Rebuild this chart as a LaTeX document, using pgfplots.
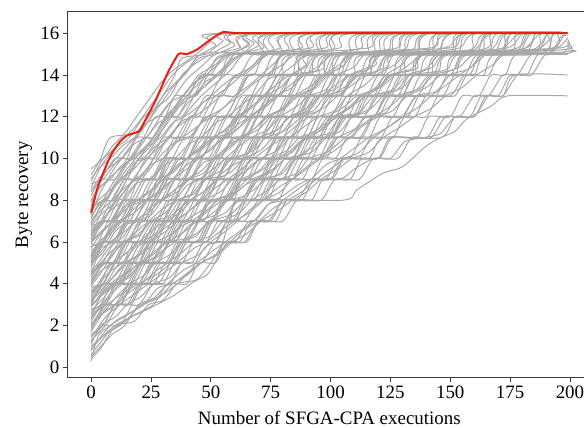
\documentclass[border=0pt]{standalone}
\usepackage{pgfplots}
\pgfplotsset{compat=1.18}
\usepackage{fontspec}
\setmainfont{Liberation Serif}
\definecolor{gline}{RGB}{168,168,168}
\definecolor{rline}{RGB}{232,32,22}
\definecolor{spine}{RGB}{60,60,60}
\pgfplotsset{gcurve/.style={gline, line width=1bp, smooth, tension=0.45, no marks}}
\begin{document}
\begin{tikzpicture}
\begin{axis}[
  at={(0,0)}, anchor=south west,
  scale only axis, width=524.1bp, height=366bp,
  xmin=-9.95, xmax=208.95, ymin=-0.5, ymax=17.03,
  xtick={0,25,50,75,100,125,150,175,200},
  ytick={0,2,4,6,8,10,12,14,16},
  tick pos=left, tick align=outside,
  major tick length=4.5bp,
  every tick/.style={spine, line width=0.9bp},
  axis line style={spine, line width=1bp},
  /pgf/number format/assume math mode=true,
  ticklabel style={font=\fontsize{19}{22}\selectfont},
  xlabel={Number of SFGA-CPA executions},
  ylabel={Byte recovery},
  every axis x label/.style={at={(axis description cs:0.5,-0.1273)}, anchor=base, font=\fontsize{19}{22}\selectfont},
  every axis y label/.style={at={(axis description cs:-0.0826,0.5)}, rotate=90, anchor=center, font=\fontsize{19}{22}\selectfont},
  clip=true,
]
\addplot[gcurve] coordinates {(0,9.2)(4,10)(8,11)(18,11.2)(24,12)(30,13)(35,14)(38,14.8)(48,15)(55,15.6)(62,16)(199,16)};
\addplot[gcurve] coordinates {(0,8.5)(5,9)(12,10)(16,10)(22,11)(26,11)(31,12)(35,13)(40,13)(46,14)(50,14)(56,15)(64,15)(70,16)(199,16)};
\addplot[gcurve] coordinates {(0,7)(6,8)(11,9)(17,10)(22,10)(28,11)(33,12)(38,12)(43,13)(48,14)(54,14)(60,15)(72,15)(78,16)(199,16)};
\addplot[gcurve] coordinates {(0,6.5)(5,7)(10,7)(16,8)(20,9)(26,9)(31,10)(36,11)(41,12)(45,12)(50,13)(55,14)(62,14)(68,15)(80,15)(86,16)(199,16)};
\addplot[gcurve] coordinates {(0,5.2)(4,6)(9,6)(14,7)(18,8)(24,8)(29,9)(33,10)(40,10)(45,11)(50,12)(56,12)(61,13)(66,14)(74,14)(80,15)(88,15)(94,16)(199,16)};
\addplot[gcurve] coordinates {(0,4)(5,5)(10,6)(16,6)(21,7)(25,8)(30,8)(35,9)(40,10)(46,10)(51,11)(56,11)(61,12)(66,13)(72,13)(78,14)(84,15)(95,15)(101,16)(199,16)};
\addplot[gcurve] coordinates {(0,3)(5,4)(11,4)(16,5)(21,6)(27,6)(32,7)(38,7)(43,8)(48,9)(55,9)(60,10)(67,10)(72,11)(78,12)(86,12)(91,13)(97,14)(105,14)(110,15)(122,15)(128,16)(199,16)};
\addplot[gcurve] coordinates {(0,2.5)(6,3)(10,4)(16,4)(21,5)(27,5)(32,6)(36,7)(44,7)(49,8)(55,8)(60,9)(64,10)(72,10)(78,11)(85,11)(90,12)(95,13)(104,13)(110,14)(118,14)(124,15)(140,15)(146,16)(199,16)};
\addplot[gcurve] coordinates {(0,5.8)(6,6)(12,7)(18,7)(23,8)(29,8)(34,9)(41,9)(46,10)(52,11)(58,11)(63,12)(70,12)(75,13)(80,14)(88,14)(94,15)(108,15)(114,16)(199,16)};
\addplot[gcurve] coordinates {(0,4.7)(5,5)(11,5)(16,6)(20,7)(27,7)(32,8)(38,8)(43,9)(49,9)(54,10)(60,11)(68,11)(73,12)(79,12)(84,13)(91,13)(96,14)(104,14)(109,15)(130,15)(136,16)(199,16)};
\addplot[gcurve] coordinates {(0,3.6)(4,4)(8,5)(14,5)(19,6)(25,6)(30,7)(35,8)(42,8)(47,9)(52,10)(60,10)(65,11)(71,11)(76,12)(83,12)(88,13)(95,13)(100,14)(112,14)(118,15)(150,15)(156,16)(199,16)};
\addplot[gcurve] coordinates {(0,2)(6,3)(12,3)(17,4)(22,5)(28,5)(33,6)(40,6)(45,7)(50,8)(57,8)(62,9)(70,9)(75,10)(82,11)(90,11)(95,12)(102,12)(107,13)(115,13)(120,14)(128,14)(133,15)(160,15)(166,16)(199,16)};
\addplot[gcurve] coordinates {(0,6.2)(5,7)(12,7)(17,8)(23,8)(28,9)(32,10)(40,10)(45,11)(52,11)(57,12)(64,12)(69,13)(76,13)(81,14)(90,14)(95,15)(115,15)(121,16)(199,16)};
\addplot[gcurve] coordinates {(0,7.8)(6,8)(12,9)(18,9)(23,10)(30,10)(35,11)(42,11)(47,12)(52,13)(60,13)(65,14)(75,14)(80,15)(100,15)(106,16)(199,16)};
\addplot[gcurve] coordinates {(0,5)(4,6)(10,6)(15,7)(22,7)(27,8)(33,8)(38,9)(46,9)(51,10)(58,10)(63,11)(68,12)(77,12)(82,13)(90,13)(95,14)(101,14)(106,15)(172,15)(178,16)(199,16)};
\addplot[gcurve] coordinates {(0,4.2)(6,5)(13,5)(18,6)(24,6)(29,7)(36,7)(41,8)(47,8)(52,9)(60,9)(65,10)(72,10)(77,11)(84,11)(89,12)(96,12)(101,13)(108,13)(113,14)(122,14)(127,15)(145,15)(151,16)(199,16)};
\addplot[gcurve] coordinates {(0,3.2)(5,4)(10,5)(17,5)(22,6)(27,7)(33,7)(38,8)(45,8)(50,9)(56,10)(63,10)(68,11)(75,11)(80,12)(87,12)(92,13)(100,13)(105,14)(114,14)(119,15)(136,15)(142,16)(199,16)};
\addplot[gcurve] coordinates {(0,1.5)(5,2)(10,3)(16,3)(21,4)(28,4)(33,5)(38,6)(45,6)(50,7)(56,7)(61,8)(68,8)(73,9)(80,9)(85,10)(92,10)(97,11)(104,11)(109,12)(118,12)(123,13)(130,13)(135,14)(143,14)(148,15)(170,15)(176,16)(199,16)};
\addplot[gcurve] coordinates {(0,6.8)(5,7)(11,8)(18,8)(23,9)(29,9)(34,10)(39,11)(46,11)(51,12)(58,12)(63,13)(70,13)(75,14)(84,14)(89,15)(127,15)(133,16)(199,16)};
\addplot[gcurve] coordinates {(0,5.5)(5,6)(11,7)(16,7)(21,8)(27,8)(32,9)(39,9)(44,10)(50,10)(55,11)(61,12)(69,12)(74,13)(82,13)(87,14)(97,14)(102,15)(160,15)(166,16)(199,16)};
\addplot[gcurve] coordinates {(0,0.9)(10,2)(24,2.8)(34,3.4)(43,4.1)(49,4.5)(54,5.6)(58,7.2)(62,8.8)(66,9.6)(72,10)(80,10)(85,11)(95,11)(100,12)(110,12)(115,13)(125,13)(130,14)(140,14)(145,15)(180,15)(186,16)(199,16)};
\addplot[gcurve] coordinates {(0,0.3)(3,1.5)(8,2)(15,2.5)(22,3)(30,3.5)(36,4)(42,4.7)(48,5.8)(55,6)(62,6)(67,7)(75,7)(80,8)(88,8)(93,9)(100,9)(105,10)(112,10)(117,11)(126,11)(131,12)(140,12)(145,13)(152,13)(157,14)(164,14)(169,15)(199,15)};
\addplot[gcurve] coordinates {(0,1.8)(6,3)(12,3)(17,4)(24,4)(29,5)(35,5)(40,6)(48,6)(53,7)(58,7)(63,8)(105,8)(111,8.5)(122,9.3)(130,9.6)(140,10.6)(146,11)(152,11.3)(157,11.9)(167,12.5)(174,13)(199,13)};
\addplot[gcurve] coordinates {(0,1.2)(5,2)(12,2)(17,3)(22,4)(30,4)(35,5)(42,5)(47,6)(52,6)(57,7)(68,7)(74,7.8)(80,8.2)(86,8.7)(92,9)(104,9)(110,9.5)(118,10)(125,10)(131,10.8)(139,11)(146,11.2)(152,12)(160,12)(165,13)(172,13)(177,14)(199,14)};
\addplot[gcurve] coordinates {(0,2.8)(5,3)(11,4)(18,4)(23,5)(31,5)(36,6)(44,6)(49,7)(56,7)(61,8)(70,8)(75,9)(84,9)(89,10)(98,10)(103,11)(113,11)(118,12)(126,12)(131,13)(140,13)(145,14)(156,14)(162,15)(185,15)(191,16)(199,16)};
\addplot[gcurve] coordinates {(0,3.9)(6,4)(12,5)(20,5)(25,6)(32,6)(37,7)(45,7)(50,8)(58,8)(63,9)(72,9)(77,10)(86,10)(91,11)(100,11)(105,12)(114,12)(119,13)(128,13)(133,14)(142,14)(147,15)(199,15)};
\addplot[gcurve] coordinates {(0,2.2)(5,3)(12,3)(18,4)(26,4)(31,5)(38,5)(43,6)(52,6)(57,7)(64,7)(70,8)(78,8)(83,9)(92,9)(97,10)(108,10)(113,11)(121,11)(126,12)(135,12)(140,13)(147,13)(152,14)(160,14)(165,15)(190,15)(196,15.8)(199,15.9)};
\addplot[gcurve] coordinates {(0,4.5)(5,5)(10,5)(15,6)(23,6)(28,7)(35,7)(40,8)(48,8)(53,9)(62,9)(67,10)(76,10)(81,11)(90,11)(95,12)(104,12)(109,13)(118,13)(123,14)(135,14)(140,15)(194,15)(199,15.6)};
\addplot[gcurve] coordinates {(0,1.6)(5,2)(10,3)(15,3)(20,4)(26,5)(34,5)(39,6)(46,6)(51,7)(60,7)(65,8)(72,8)(77,9)(88,9)(93,10)(102,10)(107,11)(116,11)(121,12)(132,12)(137,13)(144,13)(149,14)(158,14)(163,15)(178,15)(184,16)(199,16)};
\addplot[gcurve] coordinates {(0,3.4)(6,4)(12,4)(17,5)(23,5)(28,6)(34,6)(39,7)(50,7)(55,8)(64,8)(69,9)(76,9)(81,10)(90,10)(95,11)(101,11)(106,12)(118,12)(123,13)(130,13)(135,14)(148,14)(153,15)(199,15)};
\addplot[gcurve] coordinates {(0,8.2)(4,9)(10,9)(15,10)(19,11)(26,11)(31,12)(36,12)(41,13)(46,14)(54,14)(59,15)(84,15)(90,16)(199,16)};
\addplot[gcurve] coordinates {(0,7.2)(5,8)(9,8)(14,9)(21,9)(26,10)(30,11)(37,11)(42,12)(49,12)(54,13)(61,13)(66,14)(72,14)(77,15)(96,15)(102,16)(199,16)};
\addplot[gcurve] coordinates {(0,6)(4,6.5)(9,7)(14,8)(20,8)(25,9)(31,9)(36,10)(43,10)(48,11)(53,12)(60,12)(65,13)(73,13)(78,14)(86,14)(91,15)(140,15)(146,16)(199,16)};
\addplot[gcurve] coordinates {(0,4.9)(5,6)(11,6)(16,7)(23,7)(28,8)(34,8)(39,9)(44,10)(51,10)(56,11)(64,11)(69,12)(74,13)(83,13)(88,14)(98,14)(103,15)(118,15)(124,16)(199,16)};
\addplot[gcurve] coordinates {(0,3.8)(5,4)(10,5)(18,5)(23,6)(29,6)(34,7)(41,7)(46,8)(52,9)(59,9)(64,10)(72,10)(77,11)(83,11)(88,12)(94,13)(102,13)(107,14)(116,14)(121,15)(152,15)(158,16)(199,16)};
\addplot[gcurve] coordinates {(0,2.7)(4,3)(9,4)(15,4)(20,5)(25,6)(33,6)(38,7)(44,7)(49,8)(56,8)(61,9)(67,10)(75,10)(80,11)(88,11)(93,12)(100,12)(105,13)(111,14)(121,14)(126,15)(164,15)(170,16)(199,16)};
\addplot[gcurve] coordinates {(0,5.6)(6,6)(13,6)(18,7)(24,8)(30,8)(35,9)(42,9)(47,10)(54,10)(59,11)(65,11)(70,12)(78,12)(83,13)(89,13)(94,14)(100,14)(105,15)(125,15)(131,16)(199,16)};
\addplot[gcurve] coordinates {(0,4.4)(4,5)(9,5)(14,6)(19,6)(24,7)(30,7)(35,8)(40,9)(48,9)(53,10)(59,10)(64,11)(71,11)(76,12)(85,12)(90,13)(98,13)(103,14)(108,15)(135,15)(141,16)(199,16)};
\addplot[gcurve] coordinates {(0,6.6)(4,7)(8,7)(13,8)(18,9)(25,9)(30,10)(37,10)(42,11)(48,12)(56,12)(61,13)(66,14)(76,14)(81,15)(110,15)(116,16)(199,16)};
\addplot[gcurve] coordinates {(0,7.6)(5,8)(10,8)(15,9)(20,10)(27,10)(32,11)(38,11)(43,12)(48,13)(55,13)(60,14)(68,14)(73,15)(91,15)(97,16)(199,16)};
\addplot[gcurve] coordinates {(0,3)(5,3.5)(10,4)(15,5)(22,5)(27,6)(35,6)(40,7)(47,7)(52,8)(58,8)(63,9)(71,9)(76,10)(84,10)(89,11)(96,11)(101,12)(109,12)(114,13)(122,13)(127,14)(134,14)(139,15)(187,15)(193,16)(199,16)};
\addplot[gcurve] coordinates {(0,5.3)(5,6)(10,6)(15,7)(19,8)(26,8)(31,9)(36,9)(41,10)(47,11)(55,11)(60,12)(66,12)(71,13)(79,13)(84,14)(92,14)(97,15)(148,15)(154,16)(199,16)};
\addplot[gcurve] coordinates {(0,2.4)(5,3)(11,3)(16,4)(21,4)(26,5)(31,6)(38,6)(43,7)(51,7)(56,8)(63,8)(68,9)(74,9)(79,10)(87,10)(92,11)(99,11)(104,12)(111,12)(116,13)(124,13)(129,14)(137,14)(142,15)(176,15)(182,16)(199,16)};
\addplot[gcurve] coordinates {(0,1)(5,1.5)(12,2)(18,2.5)(26,3)(32,4)(40,4)(45,5)(52,5)(57,6)(65,6)(70,7)(77,7)(82,8)(92,8)(97,9)(108,9)(113,10)(120,10)(125,11)(136,11)(141,12)(150,12)(155,13)(162,13)(167,14)(173,14)(178,15)(199,15)};
\addplot[gcurve] coordinates {(0,3.5)(5,4)(11,4)(16,5)(21,5)(26,6)(32,7)(40,7)(45,8)(53,8)(58,9)(65,9)(70,10)(78,10)(83,11)(92,11)(97,12)(107,12)(112,13)(119,13)(124,14)(131,14)(136,15)(199,15)};
\addplot[gcurve] coordinates {(0,6.4)(5,7)(10,7)(15,8)(21,8)(26,9)(31,10)(38,10)(43,11)(49,11)(54,12)(62,12)(67,13)(72,14)(80,14)(85,15)(155,15)(161,16)(199,16)};
\addplot[gcurve] coordinates {(0,4.1)(5,5)(10,5)(15,6)(21,7)(28,7)(33,8)(40,8)(45,9)(52,9)(57,10)(63,10)(68,11)(74,11)(79,12)(86,12)(91,13)(97,13)(102,14)(110,14)(115,15)(182,15)(188,16)(199,16)};
\addplot[gcurve] coordinates {(0,2.1)(4,2.5)(10,3)(16,4)(23,4)(28,5)(35,5)(40,6)(46,6)(51,7)(59,7)(64,8)(71,8)(76,9)(82,9)(87,10)(95,10)(100,11)(109,11)(114,12)(120,12)(125,13)(133,13)(138,14)(150,14)(155,15)(168,15)(174,16)(199,16)};
\addplot[gcurve] coordinates {(0,8.8)(4,9)(10,10)(17,10)(22,11)(27,12)(33,12)(38,13)(44,13)(49,14)(55,14)(60,15)(74,15)(80,16)(199,16)};
\addplot[gcurve] coordinates {(0,5.9)(5,6)(10,7)(16,7)(21,8)(27,8)(32,9)(37,10)(44,10)(49,11)(57,11)(62,12)(70,12)(75,13)(82,13)(87,14)(95,14)(100,15)(168,15)(174,16)(199,16)};
\addplot[gcurve] coordinates {(0,2.6)(6,3)(12,4)(20,4)(25,5)(32,5)(37,6)(45,6)(50,7)(60,7)(65,8)(74,8)(79,9)(100,9)(106,10)(120,10)(126,11)(140,11)(146,12)(158,12)(163,13)(170,13)(175,14)(182,14)(187,15)(199,15)};
\addplot[gcurve] coordinates {(0,1.3)(6,2)(12,3)(20,3)(26,4)(33,4)(38,5)(46,5)(52,6)(60,6)(66,7)(74,7)(80,8)(86,8)(92,9)(98,9)(104,10)(116,10)(122,11)(146,11)(152,12)(160,12)(166,13)(172,13)(178,14)(184,14)(190,15)(199,15)};
\addplot[gcurve] coordinates {(0,3.1)(5,4)(12,4)(18,5)(25,5)(30,6)(38,6)(43,7)(50,7)(56,8)(66,8)(72,9)(80,9)(86,10)(96,10)(102,11)(112,11)(118,12)(130,12)(136,13)(150,13)(156,14)(166,14)(172,15)(199,15)};
\addplot[gcurve] coordinates {(0,0.6)(4,1.2)(10,2)(18,2.2)(24,3)(30,3.2)(36,4)(44,4.2)(50,5)(56,6)(64,6)(70,7)(80,7)(86,8)(96,8)(102,9)(112,9)(118,10)(128,10)(134,11)(142,11)(148,12)(154,12)(160,13)(166,13)(172,14)(178,14)(184,15)(192,15)(198,16)(199,16)};
\addplot[gcurve] coordinates {(0,4.6)(6,5)(12,6)(20,6)(26,7)(34,7)(40,8)(50,8)(56,9)(66,9)(72,10)(84,10)(90,11)(100,11)(106,12)(118,12)(124,13)(136,13)(142,14)(152,14)(158,15)(199,15)};
\addplot[gcurve] coordinates {(0,2.9)(4,3.5)(8,4)(14,4.5)(20,5)(24,6)(30,6)(35,7)(40,8)(48,8)(53,9)(58,10)(66,10)(71,11)(80,11)(85,12)(94,12)(99,13)(110,13)(115,14)(126,14)(131,15)(170,15)(176,16)(199,16)};
\addplot[gcurve] coordinates {(0,3.7)(5,4)(10,5)(15,6)(22,6)(27,7)(33,7)(38,8)(44,9)(52,9)(57,10)(64,10)(69,11)(77,11)(82,12)(89,12)(94,13)(104,13)(109,14)(117,14)(122,15)(196,15)(199,15.4)};
\addplot[gcurve] coordinates {(0,9.5)(5,10)(10,10.5)(16,11)(22,12)(28,12.5)(33,13)(38,14)(43,14.5)(50,15)(58,15.5)(65,16)(199,16)};
\addplot[gcurve] coordinates {(0,5)(5,5.5)(10,6.5)(16,7)(22,7)(26,8)(31,9)(38,9)(43,10)(49,10)(54,11)(62,11)(67,12)(73,12)(78,13)(85,13)(90,14)(97,14)(102,15)(120,15)(126,16)(199,16)};
\addplot[gcurve] coordinates {(0,6.1)(6,7)(12,7)(17,8)(22,9)(28,9)(33,10)(40,10)(45,11)(51,11)(56,12)(63,12)(68,13)(76,13)(81,14)(88,14)(93,15)(185,15)(191,16)(199,16)};
\addplot[gcurve] coordinates {(0,1.9)(7,3)(14,3.6)(20,4)(28,4.5)(33,5)(38,6)(44,6.4)(50,7)(58,7.3)(64,8)(70,9)(78,9.2)(84,10)(92,10.3)(98,11)(104,12)(112,12.2)(118,13)(126,13.3)(132,14)(140,14.3)(146,15)(160,15.2)(168,16)(199,16)};
\addplot[gcurve] coordinates {(0,4.8)(3,5.5)(8,6.5)(12,7)(18,7.4)(23,8)(28,9)(34,9.3)(40,10)(47,10.5)(52,11)(60,11.3)(66,12)(72,12.4)(78,13)(84,14)(94,14.2)(100,15)(130,15.2)(138,16)(199,16)};
\addplot[gcurve] coordinates {(0,3.3)(4,4.2)(9,5)(14,5.4)(20,6)(26,6.3)(31,7)(36,7.5)(41,8)(47,8.4)(52,9)(58,9.6)(64,10)(70,11)(77,11.3)(83,12)(90,12.4)(96,13)(102,13.5)(108,14)(116,14.3)(122,15)(142,15.2)(150,16)(199,16)};
\addplot[gcurve] coordinates {(0,0.5)(4,1)(9,1.6)(14,2)(20,3)(26,3.3)(32,4)(38,4.6)(44,5)(50,5.5)(56,6)(62,6.5)(68,7)(74,7.8)(80,8)(86,8.5)(92,9)(98,9.7)(104,10)(110,10.5)(116,11)(124,11.5)(130,12)(136,13)(144,13.2)(150,14)(158,14.3)(164,15)(180,15.2)(188,16)(199,16)};
\addplot[gcurve] coordinates {(0,7.9)(3,8.5)(7,9)(12,9.5)(17,10)(22,10.5)(27,11)(32,12)(37,12.5)(42,13)(48,13.5)(53,14)(58,14.5)(63,15)(70,15.4)(76,16)(199,16)};
\addplot[gcurve] coordinates {(0,6.9)(4,7.5)(9,8)(14,8.6)(19,9)(25,9.7)(30,10)(36,10.8)(41,11)(46,11.7)(51,12)(57,12.6)(62,13)(68,13.6)(73,14)(80,14.5)(86,15)(104,15.3)(110,16)(199,16)};
\addplot[gcurve] coordinates {(0,2.3)(3,2.8)(8,3.5)(13,4)(18,4.8)(23,5)(30,5.6)(35,6)(41,6.8)(46,7)(52,7.5)(57,8)(64,8.7)(69,9)(76,9.5)(81,10)(87,10.8)(92,11)(98,11.6)(103,12)(110,12.6)(115,13)(122,13.5)(127,14)(134,14.6)(139,15)(150,15.4)(157,16)(199,16)};
\addplot[gcurve] coordinates {(0,5.4)(3,5.8)(8,6.6)(13,7)(18,7.6)(23,8)(29,8.5)(34,9)(40,9.5)(45,10)(51,10.6)(56,11)(62,11.5)(67,12)(73,12.6)(78,13)(84,13.6)(89,14)(96,14.5)(101,15)(113,15.3)(119,16)(199,16)};
\addplot[gcurve] coordinates {(0,4.3)(3,4.8)(8,5.2)(13,6)(20,6.3)(25,7)(31,7.4)(36,8)(42,8.3)(47,9)(54,9.4)(59,10)(66,10.3)(71,11)(78,11.4)(83,12)(91,12.3)(96,13)(103,13.4)(108,14)(116,14.4)(121,15)(175,15.2)(183,16)(199,16)};
\addplot[gcurve] coordinates {(0,1.1)(4,2)(10,2.4)(15,3)(21,3.4)(26,4)(33,4.3)(38,5)(45,5.4)(50,6)(56,6.5)(61,7)(67,7.6)(72,8)(79,8.4)(84,9)(90,9.6)(95,10)(101,10.5)(106,11)(113,11.6)(118,12)(125,12.5)(130,13)(138,13.4)(143,14)(152,14.3)(157,15)(192,15.2)(199,15.8)};
\addplot[gcurve] coordinates {(0,7.1)(3,7.8)(8,8.3)(12,9)(17,9.4)(22,10)(27,10.6)(32,11)(37,11.6)(42,12)(47,12.7)(52,13)(58,13.5)(63,14)(69,14.6)(74,15)(88,15.3)(94,16)(199,16)};
\addplot[gcurve] coordinates {(0,8.4)(3,9)(8,9.6)(13,10)(18,10.7)(23,11)(28,11.7)(33,12)(38,12.8)(43,13)(48,13.7)(53,14)(58,14.7)(63,15)(68,15.5)(73,16)(199,16)};
\addplot[gcurve] coordinates {(0,3.9)(4,4.5)(9,5.4)(14,6)(20,6.4)(25,7)(32,7.2)(37,8)(43,8.3)(48,9)(56,9.2)(61,10)(68,10.4)(73,11)(80,11.3)(85,12)(93,12.3)(98,13)(106,13.3)(111,14)(120,14.2)(125,15)(158,15.2)(165,16)(199,16)};
\addplot[gcurve] coordinates {(0,2.5)(5,3.6)(10,4)(16,4.4)(21,5)(28,5.3)(33,6)(40,6.2)(45,7)(52,7.3)(57,8)(64,8.2)(69,9)(76,9.4)(81,10)(89,10.2)(94,11)(102,11.3)(107,12)(115,12.2)(120,13)(128,13.3)(133,14)(145,14.2)(150,15)(196,15.3)(199,15.7)};
\addplot[gcurve] coordinates {(0,5.7)(4,6.4)(9,7)(14,7.5)(19,8)(25,8.4)(30,9)(35,9.6)(40,10)(46,10.5)(51,11)(57,11.4)(62,12)(68,12.5)(73,13)(79,13.4)(84,14)(90,14.5)(95,15)(142,15.3)(148,16)(199,16)};
\addplot[gcurve] coordinates {(0,6.3)(4,7)(9,7.6)(14,8)(19,8.8)(24,9)(30,9.6)(35,10)(41,10.7)(46,11)(52,11.7)(57,12)(63,12.6)(68,13)(74,13.8)(79,14)(86,14.6)(91,15)(162,15.2)(168,16)(199,16)};
\addplot[gcurve] coordinates {(0,1.4)(6,2.4)(12,3)(18,3.5)(24,4)(30,4.5)(36,5)(43,5.7)(48,6)(55,6.6)(60,7)(66,7.4)(72,8)(78,8.6)(84,9)(90,9.5)(96,10)(102,10.4)(108,11)(114,11.6)(120,12)(126,12.3)(132,13)(140,13.4)(146,14)(154,14.4)(160,15)(172,15.3)(180,16)(199,16)};
\addplot[gcurve] coordinates {(0,3.6)(3,4)(8,4.6)(13,5)(19,5.8)(24,6)(30,6.6)(35,7)(41,7.5)(46,8)(52,8.6)(57,9)(63,9.5)(68,10)(75,10.6)(80,11)(86,11.6)(91,12)(98,12.5)(103,13)(110,13.6)(115,14)(124,14.4)(129,15)(196,15.2)(199,15.5)};
\addplot[gcurve] coordinates {(0,4.4)(4,5)(9,5.6)(14,6)(19,6.5)(24,7)(30,7.6)(35,8)(40,8.7)(45,9)(51,9.5)(56,10)(62,10.6)(67,11)(74,11.4)(79,12)(86,12.5)(91,13)(98,13.3)(103,14)(110,14.4)(115,15)(134,15.2)(141,16)(199,16)};
\addplot[gcurve] coordinates {(0,2.7)(5,3.3)(10,4)(16,4.3)(21,5)(27,5.6)(32,6)(39,6.5)(44,7)(50,7.6)(55,8)(62,8.5)(67,9)(73,9.3)(78,10)(85,10.5)(90,11)(97,11.4)(102,12)(108,12.5)(113,13)(120,13.4)(125,14)(134,14.3)(139,15)(154,15.3)(161,16)(199,16)};
\addplot[gcurve] coordinates {(0,8)(3,8.6)(8,9)(13,9.7)(18,10)(24,10.6)(29,11)(34,11.7)(39,12)(45,12.5)(50,13)(56,13.6)(61,14)(67,14.4)(72,15)(79,15.3)(86,16)(199,16)};
\addplot[gcurve] coordinates {(0,5.1)(4,5.7)(9,6)(14,6.8)(19,7)(25,7.7)(30,8)(36,8.6)(41,9)(47,9.8)(52,10)(58,10.5)(63,11)(70,11.4)(75,12)(82,12.6)(87,13)(94,13.4)(99,14)(106,14.5)(111,15)(178,15.2)(186,16)(199,16)};
\addplot[gcurve] coordinates {(0,3.3)(5,3.8)(10,4.4)(15,5)(22,5.5)(27,6)(34,6.4)(39,7)(46,7.5)(51,8)(58,8.3)(63,9)(70,9.4)(75,10)(82,10.4)(87,11)(94,11.3)(99,12)(106,12.5)(111,13)(118,13.3)(123,14)(130,14.5)(135,15)(166,15.2)(173,16)(199,16)};
\addplot[gcurve] coordinates {(0,6.7)(3,7.2)(8,7.7)(13,8.3)(18,9)(23,9.3)(28,10)(33,10.6)(38,11)(44,11.5)(49,12)(55,12.4)(60,13)(66,13.5)(71,14)(77,14.6)(82,15)(116,15.3)(123,16)(199,16)};
\addplot[gcurve] coordinates {(0,4.9)(3,5.4)(8,6)(14,6.5)(19,7)(25,7.3)(30,8)(36,8.4)(41,9)(47,9.3)(52,10)(58,10.7)(63,11)(69,11.5)(74,12)(81,12.4)(86,13)(93,13.4)(98,14)(105,14.4)(110,15)(124,15.2)(131,16)(199,16)};
\addplot[gcurve] coordinates {(0,1.7)(5,2.6)(10,3)(16,3.6)(21,4)(27,4.6)(32,5)(38,5.5)(43,6)(50,6.3)(55,7)(62,7.4)(67,8)(74,8.5)(79,9)(86,9.3)(91,10)(98,10.3)(103,11)(110,11.4)(115,12)(123,12.2)(128,13)(136,13.3)(141,14)(149,14.3)(154,15)(184,15.2)(191,16)(199,16)};
\addplot[gcurve] coordinates {(0,7.5)(3,8)(8,8.5)(13,9)(18,9.8)(23,10)(28,10.5)(33,11)(38,11.8)(43,12)(49,12.5)(54,13)(59,13.8)(64,14)(70,14.6)(75,15)(98,15.3)(105,16)(199,16)};
\addplot[gcurve] coordinates {(0,0.8)(5,1.6)(10,2.2)(16,2.6)(22,3)(28,3.8)(34,4)(40,4.5)(46,5)(52,5.4)(58,6)(64,6.6)(70,7)(76,7.6)(82,8)(88,8.4)(94,9)(100,9.5)(106,10)(112,10.3)(118,11)(124,11.5)(130,12)(136,12.4)(142,13)(148,13.5)(154,14)(160,14.5)(166,15)(186,15.2)(194,16)(199,16)};
\addplot[gcurve] coordinates {(0,5.3)(3,6)(8,6.4)(13,7)(18,7.8)(23,8)(29,8.4)(34,9)(39,9.6)(44,10)(50,10.4)(55,11)(61,11.6)(66,12)(72,12.5)(77,13)(84,13.4)(89,14)(97,14.3)(102,15)(150,15.3)(157,16)(199,16)};
\addplot[gcurve] coordinates {(0,2.9)(4,3.4)(9,4)(15,4.5)(20,5)(26,5.4)(31,6)(37,6.7)(42,7)(48,7.5)(53,8)(60,8.4)(65,9)(72,9.5)(77,10)(84,10.3)(89,11)(96,11.5)(101,12)(108,12.4)(113,13)(121,13.5)(126,14)(136,14.3)(141,15)(199,15)};
\addplot[gcurve] coordinates {(0,4)(4,4.6)(9,5)(15,5.5)(20,6)(26,6.6)(31,7)(37,7.4)(42,8)(48,8.5)(53,9)(59,9.4)(64,10)(71,10.4)(76,11)(83,11.5)(88,12)(95,12.3)(100,13)(107,13.5)(112,14)(119,14.5)(124,15)(198,15.1)(199,15.2)};
\addplot[gcurve] coordinates {(0,6)(4,6.4)(9,7)(14,7.7)(19,8)(25,8.5)(30,9)(35,9.5)(40,10)(46,10.6)(51,11)(56,11.4)(61,12)(67,12.5)(72,13)(78,13.6)(83,14)(90,14.4)(95,15)(188,15.2)(195,16)(199,16)};
\addplot[gcurve] coordinates {(0,3.2)(4,3.6)(9,4.3)(14,5)(20,5.4)(25,6)(31,6.5)(36,7)(42,7.6)(47,8)(54,8.4)(59,9)(66,9.5)(71,10)(78,10.4)(83,11)(90,11.6)(95,12)(102,12.3)(107,13)(114,13.5)(119,14)(127,14.5)(132,15)(145,15.2)(152,16)(199,16)};
\addplot[gcurve] coordinates {(0,9)(3,9.5)(8,10)(13,10.6)(18,11)(23,11.7)(28,12)(33,12.7)(38,13)(43,13.6)(48,14)(53,14.5)(58,15)(66,15.4)(72,16)(199,16)};
\addplot[gcurve] coordinates {(0,2)(5,2.6)(10,3.3)(16,4)(22,4.4)(27,5)(33,5.4)(38,6)(44,6.3)(49,7)(56,7.4)(61,8)(68,8.5)(73,9)(80,9.3)(85,10)(92,10.5)(97,11)(104,11.3)(109,12)(117,12.4)(122,13)(130,13.4)(135,14)(143,14.4)(148,15)(174,15.3)(181,16)(199,16)};
\addplot[gcurve] coordinates {(0,4.6)(3,5)(8,5.8)(13,6.2)(18,7)(24,7.4)(29,8)(35,8.5)(40,9)(46,9.4)(51,10)(57,10.5)(62,11)(68,11.4)(73,12)(80,12.4)(85,13)(92,13.5)(97,14)(104,14.5)(109,15)(128,15.3)(135,16)(199,16)};
\addplot[gcurve] coordinates {(0,0.4)(4,0.9)(9,1.8)(15,2.3)(21,3)(28,3.3)(34,4)(40,4.4)(46,5)(53,5.4)(59,6)(65,6.4)(71,7)(78,7.5)(84,8)(90,8.4)(96,9)(103,9.5)(109,10)(116,10.3)(122,11)(129,11.5)(135,12)(142,12.4)(148,13)(155,13.4)(161,14)(168,14.5)(174,15)(199,15)};
\addplot[gcurve] coordinates {(0,8.6)(4,9.6)(9,10.4)(14,11)(19,11.6)(24,12.4)(29,13.2)(34,14)(40,14.6)(46,15)(52,15.4)(58,16)(199,16)};
\addplot[gcurve] coordinates {(0,7.3)(4,8.4)(9,9.4)(14,10.2)(19,11)(24,11.8)(29,12.6)(34,13.4)(39,14)(45,14.8)(52,15)(60,15.4)(66,16)(199,16)};
\addplot[gcurve] coordinates {(0,6.8)(5,8)(10,9)(15,9.8)(20,10.5)(25,11.3)(30,12.2)(35,13)(40,13.8)(46,14.4)(52,15)(62,15.3)(70,16)(199,16)};
\addplot[gcurve] coordinates {(0,5.9)(5,7.2)(10,8.3)(15,9.2)(20,10)(26,11)(31,12)(36,12.6)(41,13.4)(47,14)(53,14.8)(60,15)(72,15.3)(78,16)(199,16)};
\addplot[gcurve] coordinates {(0,7.7)(4,9)(9,9.8)(15,10.6)(20,11.2)(25,12)(30,13)(35,13.6)(40,14.2)(46,15)(60,15.1)(66,15.5)(72,16)(199,16)};
\addplot[gcurve] coordinates {(0,6.3)(5,7.6)(10,8.7)(15,9.5)(20,10.2)(25,10.9)(30,11.7)(35,12.5)(40,13.2)(45,14)(52,14.5)(58,15)(82,15.2)(88,16)(199,16)};
\addplot[gcurve] coordinates {(0,5)(5,6.5)(10,7.7)(15,8.6)(20,9.4)(25,10.2)(30,11)(35,11.8)(40,12.6)(46,13.3)(52,14)(58,14.6)(64,15)(92,15.3)(98,16)(199,16)};
\addplot[gcurve] coordinates {(0,8.9)(4,9.8)(9,10.6)(14,11.2)(19,12)(24,12.8)(29,13.6)(34,14.2)(39,14.6)(44,15)(50,15.6)(56,16)(199,16)};
\addplot[gcurve] coordinates {(0,4.5)(5,6)(10,7.3)(15,8.3)(20,9)(25,9.8)(30,10.7)(35,11.4)(40,12.2)(46,13)(52,13.6)(58,14.2)(64,15)(76,15.2)(82,16)(199,16)};
\addplot[gcurve] coordinates {(0,6)(5,7)(10,8)(15,9)(20,10)(25,10.6)(30,11.4)(35,12.2)(40,13)(45,13.6)(50,14.2)(56,15)(100,15.2)(106,16)(199,16)};
\addplot[rline, line width=2bp, smooth, tension=0.35, no marks] coordinates {(0,7.4)(3,8.7)(8,10.1)(12,10.8)(15,11.1)(20,11.3)(22,11.7)(27,12.8)(32,14.1)(36.5,15.0)(40,15.0)(44,15.2)(50,15.7)(55,16.05)(61,16)(80,16)(120,16)(160,16)(199,16)};
\end{axis}
\pgfresetboundingbox
\useasboundingbox (-67.3bp,-50.3bp) rectangle (516.7bp,377.7bp);
\end{tikzpicture}
\end{document}
